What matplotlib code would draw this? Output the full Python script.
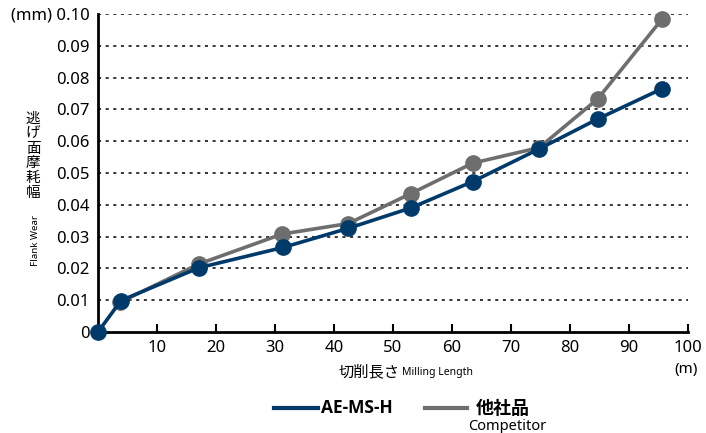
import matplotlib
matplotlib.use("Agg")
import matplotlib.pyplot as plt
from matplotlib.lines import Line2D

plt.rcParams['font.family'] = ['Noto Sans', 'Noto Sans CJK JP', 'DejaVu Sans']

# Data
ae_x = [0, 3.9, 17.1, 31.4, 42.4, 53.0, 63.5, 74.8, 84.7, 95.6]
ae_y = [0.0, 0.0099, 0.0202, 0.0266, 0.0326, 0.0390, 0.0473, 0.0576, 0.0670, 0.0765]
comp_x = [3.8, 17.1, 31.2, 42.4, 53.0, 63.5, 74.8, 84.7, 95.6]
comp_y = [0.0094, 0.0214, 0.0308, 0.0341, 0.0435, 0.0531, 0.0580, 0.0733, 0.0984]
x_ticks = [10, 20, 30, 40, 50, 60, 70, 80, 90, 100]
y_ticks = [0, 0.01, 0.02, 0.03, 0.04, 0.05, 0.06, 0.07, 0.08, 0.09, 0.10]
y_labels = ['0', '0.01', '0.02', '0.03', '0.04', '0.05', '0.06', '0.07', '0.08', '0.09', '(mm) 0.10']

BLUE = '#003a6b'
GRAY = '#6e6e6e'

fig = plt.figure(figsize=(7.06, 4.33), dpi=100)
ax = fig.add_axes([98/706, 1-332/433, 590/706, 318/433])

ax.plot(comp_x, comp_y, color=GRAY, lw=2.6, marker='o', ms=11, clip_on=False, zorder=3)
ax.plot(ae_x, ae_y, color=BLUE, lw=2.6, marker='o', ms=11, clip_on=False, zorder=4)

ax.set_xlim(0, 100)
ax.set_ylim(0, 0.10)
for s in ['top', 'right']:
    ax.spines[s].set_visible(False)
for s in ['left', 'bottom']:
    ax.spines[s].set_linewidth(2.0)
    ax.spines[s].set_color('black')

ax.set_xticks(x_ticks)
ax.set_xticklabels([str(v) for v in x_ticks], fontsize=12)
ax.set_yticks(y_ticks)
ax.set_yticklabels(y_labels, fontsize=12)
ax.tick_params(axis='x', direction='in', length=6, width=1.5, pad=6)
ax.tick_params(axis='y', length=0, pad=6)

for v in y_ticks[1:]:
    ax.axhline(v, color='black', lw=1.1, ls=(0, (2, 3)), zorder=1)

# axis labels
fig.text(400/706, 1-372/433, '切削長さ', fontsize=11, ha='right', va='center',
         family=['Noto Sans CJK JP'])
fig.text(402/706, 1-373/433, 'Milling Length', fontsize=7.5, ha='left', va='center')
fig.text(686/706, 1-370/433, '(m)', fontsize=11, ha='center', va='center')

fig.text(33/706, 1-156/433, '\n'.join('逃げ面摩耗幅'), fontsize=10.5, ha='center', va='center',
         family=['Noto Sans CJK JP'], linespacing=1.08)
fig.text(36/706, 1-240/433, 'Flank Wear', fontsize=7, rotation=90, ha='center', va='center')

# legend
fig.add_artist(Line2D([274/706, 318/706], [1-408/433, 1-408/433], color=BLUE, lw=3))
fig.text(321/706, 1-408/433, 'AE-MS-H', fontsize=12.5, fontweight='bold', ha='left', va='center',
         family=['Open Sans', 'DejaVu Sans'])
fig.add_artist(Line2D([425/706, 467/706], [1-408/433, 1-408/433], color=GRAY, lw=3))
fig.text(476/706, 1-408/433, '他社品', fontsize=13, fontweight='bold', ha='left', va='center',
         family=['Noto Sans CJK JP'])
fig.text(507/706, 1-426/433, 'Competitor', fontsize=10.5, ha='center', va='center')

fig.savefig('out.png', dpi=100)
